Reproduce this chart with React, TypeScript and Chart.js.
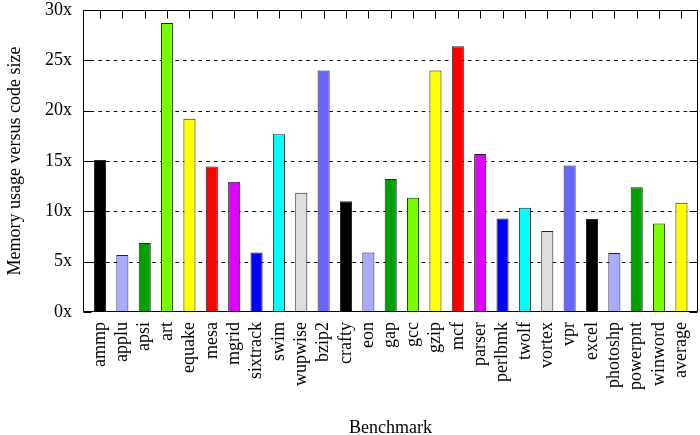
import React, { useEffect, useRef } from "react";
import { Chart, registerables } from "chart.js";

Chart.register(...registerables);

const benchmarks = [
  "ammp", "applu", "apsi", "art", "equake", "mesa", "mgrid", "sixtrack", "swim",
  "wupwise", "bzip2", "crafty", "eon", "gap", "gcc", "gzip", "mcf", "parser",
  "perlbmk", "twolf", "vortex", "vpr", "excel", "photoshp", "powerpnt", "winword", "average",
];

const memoryRatio = [
  15.1, 5.65, 6.85, 28.7, 19.2, 14.45, 12.95, 5.9, 17.65,
  11.85, 24.0, 11.0, 5.9, 13.2, 11.35, 24.0, 26.4, 15.7,
  9.3, 10.35, 8.05, 14.55, 9.25, 5.85, 12.4, 8.8, 10.85,
];

const yTickValues = [0, 5, 10, 15, 20, 25, 30];

const palette = [
  "#000000", "#aaaaff", "#00a000", "#77ff00", "#ffff00", "#ff0000",
  "#dd00ff", "#0000ff", "#00ffff", "#dddddd", "#6666ff",
];

const FONT = "'Liberation Serif', 'Times New Roman', serif";

const framePlugin = {
  id: "gnuplotFrame",
  beforeDatasetsDraw(chart: any) {
    const { ctx, chartArea: a, scales } = chart;
    const y = scales.y;
    ctx.save();
    ctx.strokeStyle = "#000";
    ctx.lineWidth = 1;
    ctx.setLineDash([3.5, 4.2]);
    for (const v of yTickValues) {
      if (v === yTickValues[0] || v === yTickValues[yTickValues.length - 1]) continue;
      const py = Math.round(y.getPixelForValue(v)) + 0.5;
      ctx.beginPath();
      ctx.moveTo(a.left, py);
      ctx.lineTo(a.right, py);
      ctx.stroke();
    }
    ctx.restore();
  },
  afterDatasetsDraw(chart: any) {
    const { ctx, chartArea: a, scales } = chart;
    const x = scales.x;
    const y = scales.y;
    const tick = 8;
    ctx.save();
    ctx.strokeStyle = "#000";
    ctx.lineWidth = 1;
    ctx.setLineDash([]);
    const L = Math.round(a.left) + 0.5;
    const R = Math.round(a.right) - 0.5;
    const T = Math.round(a.top) + 0.5;
    const B = Math.round(a.bottom) - 0.5;
    ctx.beginPath();
    ctx.rect(L, T, R - L, B - T);
    ctx.stroke();
    ctx.beginPath();
    for (const v of yTickValues) {
      const py = Math.round(y.getPixelForValue(v)) + 0.5;
      ctx.moveTo(L, py);
      ctx.lineTo(L + tick, py);
      ctx.moveTo(R, py);
      ctx.lineTo(R - tick, py);
    }
    benchmarks.forEach((_, i) => {
      const px = Math.round(x.getPixelForValue(i)) + 0.5;
      ctx.moveTo(px, T);
      ctx.lineTo(px, T + tick);
    });
    ctx.stroke();
    ctx.restore();
  },
};

export default function App() {
  const canvasRef = useRef<HTMLCanvasElement | null>(null);

  useEffect(() => {
    const canvas = canvasRef.current;
    if (!canvas) return;
    const chart = new Chart(canvas, {
      type: "bar",
      data: {
        datasets: [
          {
            data: memoryRatio.map((v, i) => ({ x: i, y: v })),
            backgroundColor: benchmarks.map((_, i) => palette[i % palette.length]),
            borderColor: "#222",
            borderWidth: 1,
            categoryPercentage: 1,
            barPercentage: 0.54,
          },
        ],
      },
      options: {
        responsive: false,
        animation: false,
        devicePixelRatio: 1,
        layout: { padding: { top: 10, right: 2, left: 0, bottom: 0 } },
        plugins: { legend: { display: false }, tooltip: { enabled: false } },
        scales: {
          x: {
            type: "linear",
            offset: false,
            min: -0.76,
            max: 26.74,
            grid: { display: false, drawTicks: false },
            border: { display: false },
            ticks: {
              stepSize: 1,
              includeBounds: false,
              autoSkip: false,
              minRotation: 90,
              maxRotation: 90,
              padding: 10,
              color: "#000",
              font: { family: FONT, size: 18 },
              callback: (v: any) => (Number.isInteger(v) && benchmarks[v] ? benchmarks[v] : ""),
            },
            title: {
              display: true,
              text: "Benchmark",
              color: "#000",
              font: { family: FONT, size: 18 },
              padding: { top: 0, bottom: -4 },
            },
            afterFit: (s: any) => {
              s.height = 123;
              s.paddingLeft = 0;
              s.paddingRight = 0;
            },
          },
          y: {
            min: 0,
            max: 30,
            grid: { display: false, drawTicks: false },
            border: { display: false },
            ticks: {
              stepSize: 5,
              padding: 11,
              color: "#000",
              font: { family: FONT, size: 18 },
              callback: (v: any) => `${v}x`,
            },
            title: {
              display: true,
              text: "Memory usage versus code size",
              color: "#000",
              font: { family: FONT, size: 18 },
              padding: { top: 4, bottom: 0 },
            },
            afterFit: (s: any) => {
              s.width = 83;
              s.paddingTop = 0;
              s.paddingBottom = 0;
            },
          },
        },
      },
      plugins: [framePlugin],
    });
    return () => chart.destroy();
  }, []);

  return (
    <div style={{ position: "absolute", left: 0, top: 0, width: 700, height: 435, background: "#fff" }}>
      <canvas ref={canvasRef} width={700} height={435} style={{ display: "block" }} />
    </div>
  );
}
